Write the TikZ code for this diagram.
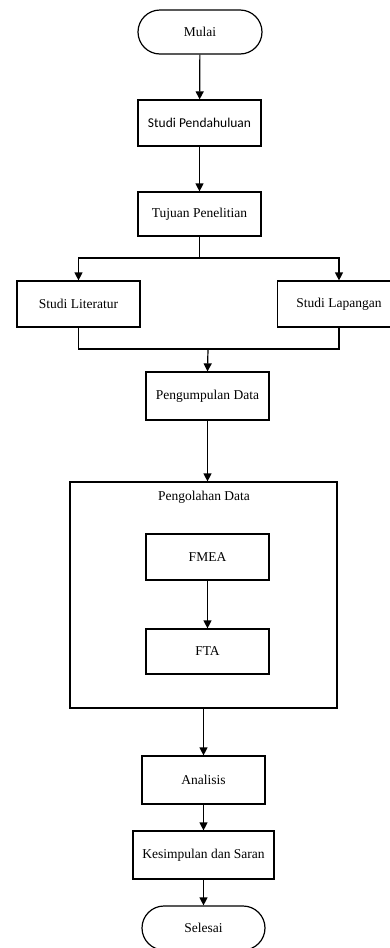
\documentclass[tikz,border=0pt]{standalone}
\usepackage{fontspec}
\setmainfont{Liberation Serif}
\newfontfamily\calfont{Carlito}
\usetikzlibrary{arrows.meta, positioning}

\begin{document}
\begin{tikzpicture}[
    x=1pt, y=1pt,
    every node/.style={font=\fontsize{13.5}{15}\selectfont},
    box/.style={
        rectangle, draw, line width=1.2pt, inner sep=0pt,
        minimum width=123pt, minimum height=46pt, text centered
    },
    term/.style={box, rounded corners=22pt, minimum width=124pt, minimum height=44pt},
    arr/.style={-{Triangle[length=8pt, width=8pt]}, line width=1.2pt},
    ln/.style={line width=1.2pt}
]
\useasboundingbox (0,0) rectangle (389,-948);

%% ---- Main flow ----
\node[term]                     (mulai)  at (200,-32)    {Mulai};
\node[box, font=\calfont\fontsize{13.5}{15}\selectfont] (pend) at (199.5,-123) {Studi Pendahuluan};
\node[box, minimum height=44pt] (tujuan) at (199.5,-214) {Tujuan Penelitian};
\node[box]                      (lit)    at (78.5,-304)  {Studi Literatur};
\node[box]                      (lap)    at (339,-304)   {Studi Lapangan};
\node[box, minimum height=48pt] (kumpul) at (207.5,-396) {Pengumpulan Data};

%% ---- Pengolahan Data block ----
\node[box, minimum width=267pt, minimum height=226pt] (olah) at (203.5,-595) {};
\node (olahlbl) at (204,-497) {Pengolahan Data};
\node[box]                      (fmea)   at (207.5,-557) {FMEA};
\node[box, minimum height=45pt] (fta)    at (207.5,-651.5) {FTA};

%% ---- Closing ----
\node[box, minimum height=48pt] (anal)   at (203.5,-780) {Analisis};
\node[box, minimum width=141pt, minimum height=48pt] (simpul) at (203.5,-855) {Kesimpulan dan Saran};
\node[term, minimum width=123pt] (selesai) at (203.5,-928) {Selesai};

%% ---- Split and merge points ----
\coordinate (split) at (199.5,-258);
\coordinate (merge) at (208,-349);

%% ---- Arrows ----
\draw[arr] (mulai) -- (pend);
\draw[arr] (pend)  -- (tujuan);
\draw[ln]  (tujuan.south) -- (split);
\draw[arr] (split) -| (lit.north);
\draw[arr] (split) -| (lap.north);
\draw[ln]  (lit.south) |- (merge);
\draw[ln]  (lap.south) |- (merge);
\draw[arr] (merge) -- (kumpul.north);
\draw[arr] (kumpul.south) -- (kumpul.south |- olah.north);
\draw[arr] (fmea) -- (fta);
\draw[arr] (olah.south) -- (anal.north);
\draw[arr] (anal)  -- (simpul);
\draw[arr] (simpul) -- (selesai);

\end{tikzpicture}
\end{document}
